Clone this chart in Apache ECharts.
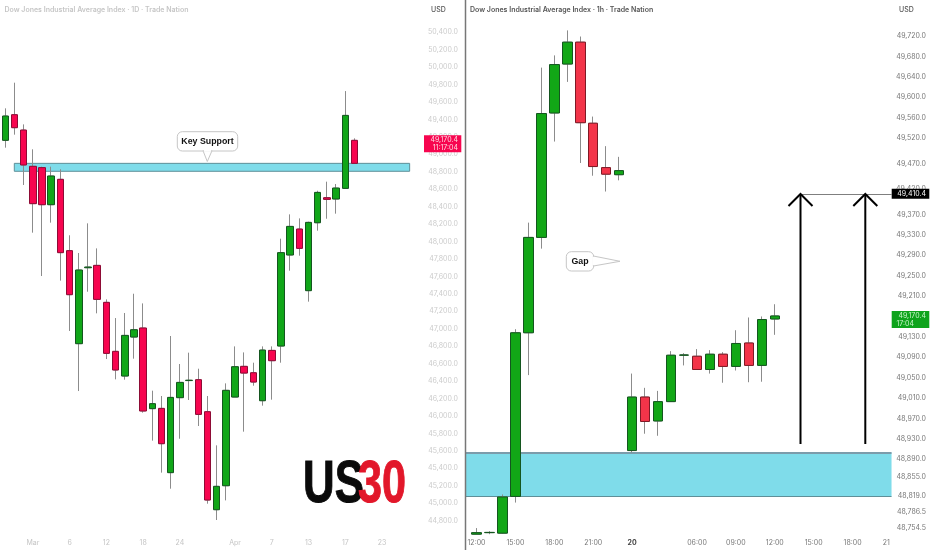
<!DOCTYPE html>
<html>
<head>
<meta charset="utf-8">
<style>html,body{margin:0;padding:0;background:#fff}#c{width:932px;height:550px}</style>
<script src="https://cdn.jsdelivr.net/npm/echarts@6/dist/echarts.min.js"></script>
</head>
<body>
<div id="c"></div>
<script>
// ---------- Daily panel ----------
const dailyOpen  = [49161,49455,49279,48863,48848,48423,48714,47896,46829,47700,47727,47303,46741,46458,46905,47009,46084,46087,45350,46210,46406,46416,46049,44925,45200,46217,46569,46496,46175,46752,46802,47846,48144,47437,48216,48503,48488,48610,49161];
const dailyClose = [49440,49306,48878,48435,48423,48752,47873,47391,47674,47708,47337,46718,46527,46924,46989,46057,46141,45682,46213,46385,46410,46018,45036,45193,46294,46565,46492,46389,46756,46634,47873,48174,47922,48220,48564,48484,48614,49447,48897];
const dailyLow   = [49077,49226,48649,48102,47605,48217,47552,46975,46286,47425,47177,46653,46420,46416,46657,46038,45717,45350,45166,45739,46183,45885,44994,44807,45032,46217,45820,46347,46118,46187,46611,47666,47838,47311,48125,48262,48320,48610,48897];
const dailyHigh  = [49528,49822,49344,49058,48859,48859,48829,48072,47869,48209,47922,47337,47123,47181,47402,47291,46290,46229,46917,46596,46726,46542,46229,45663,46374,46798,46729,46611,46798,46798,48033,48312,48266,48228,48583,48687,48660,49726,49184];
const dailyTickPos   = [3,7,11,15,19,25,29,33,37,41];
const dailyTickNames = ['Mar','6','12','18','24','Apr','7','13','17','23'];
const dailyPrices = [50400,50200,50000,49800,49600,49400,49200,49000,48800,48600,48400,48200,48000,47800,47600,47400,47200,47000,46800,46600,46400,46200,46000,45800,45600,45400,45200,45000,44800];
const keySupport = [48897,48806];

// ---------- Hourly panel ----------
const hourlyOpen  = [48743,48746,48745,48817,49138,49325,49569,49665,49708,49549,49462,49448,48907,49012,48965,49003,49094,49092,49066,49096,49072,49118,49074,49165];
const hourlyClose = [48746,48746.5,48816,49138,49325,49568,49664,49708,49550,49464,49449,49456,49012,48964,49003,49094,49094.5,49066,49096,49072,49117,49074,49164,49171];
const hourlyLow   = [48743,48743,48744,48805,49055,49303,49513,49630,49471,49446,49415,49437,48903,48940,48936,49003,49074,49066,49058,49040,49064,49041,49042,49134];
const hourlyHigh  = [48755,48749,48821,49145,49354,49658,49682,49731,49719,49562,49504,49483,49058,49030,49024,49102,49098,49106,49104,49100,49143,49168,49170,49194];
const hourlyTickPos   = [0,3,6,9,12,17,20,23,26,29,31.6];
const hourlyTickNames = ['12:00','15:00','18:00','21:00','20','06:00','09:00','12:00','15:00','18:00','21'];
const hourlyPrices = [49720,49680,49640,49600,49560,49520,49470,49420,49370,49330,49290,49250,49210,49130,49090,49050,49010,48970,48930,48890,48855,48819,48786.5,48754.5];
const gapZone = [48903,48817];
const targetPrice = 49410.4;
const lastPrice = 49170.4;

const FONT = 'Inter, "Noto Sans", sans-serif';
const CALL = '"Liberation Sans", Arial, sans-serif';
const STAMP = '"Liberation Sans Narrow","Liberation Sans",sans-serif';
const fmt = v => v.toLocaleString('en-US',{minimumFractionDigits:1,maximumFractionDigits:1});
const rows = (x,a,b,c,d) => a.map((_,i)=>[i,a[i],b[i],c[i],d[i]]);
const bodies = (a,b) => a.map((_,i)=>[i,a[i],b[i],Math.min(a[i],b[i]),Math.max(a[i],b[i])]);

function xAxisFor(idx,min,max,pos,names,color){
  return {type:'value',gridIndex:idx,min,max,splitLine:{show:false},axisLine:{show:false},
    axisTick:{show:false,customValues:pos},
    axisLabel:{customValues:pos,color,fontSize:7,fontFamily:FONT,margin:4.5,hideOverlap:false,showMinLabel:true,showMaxLabel:true,
      formatter:v=>{const n=names[pos.indexOf(v)];return n==='20'?'{b|20}':n;},
      rich:{b:{fontWeight:'bold',color:'#444',fontSize:7,fontFamily:FONT}}}};
}
function yAxisFor(idx,min,max,prices,color,margin){
  return {type:'value',gridIndex:idx,position:'right',min,max,scale:true,splitLine:{show:false},axisLine:{show:false},
    axisTick:{show:false,customValues:prices},
    axisLabel:{customValues:prices,inside:true,margin,padding:[2,0,0,0],color,fontSize:7,fontFamily:FONT,formatter:fmt,showMinLabel:true,showMaxLabel:true}};
}
const wickStyle={color:'#8c8c8c',color0:'#8c8c8c',borderColor:'#8c8c8c',borderColor0:'#8c8c8c',borderColorDoji:'#8c8c8c',borderWidth:1};

const option={
  animation:false,
  backgroundColor:'#ffffff',
  title:[
    {text:'Dow Jones Industrial Average Index · 1D · Trade Nation',left:4.5,top:6,padding:0,textStyle:{color:'#c6c6c6',fontSize:7,fontWeight:600,fontFamily:FONT}},
    {text:'Dow Jones Industrial Average Index · 1h · Trade Nation',left:470,top:6,padding:0,textStyle:{color:'#555555',fontSize:7,fontWeight:600,fontFamily:FONT}},
    {text:'USD',left:431,top:6,padding:0,textStyle:{color:'#555555',fontSize:7,fontWeight:500,fontFamily:FONT}},
    {text:'USD',left:899,top:6,padding:0,textStyle:{color:'#555555',fontSize:7,fontWeight:500,fontFamily:FONT}}
  ],
  grid:[
    {left:0,top:20,width:460,height:515},
    {left:466,top:20,width:466,height:515}
  ],
  xAxis:[
    xAxisFor(0,-0.577,49.48,dailyTickPos,dailyTickNames,'#c4c4c4'),
    xAxisFor(1,-0.81,35.12,hourlyTickPos,hourlyTickNames,'#777777')
  ],
  yAxis:[
    yAxisFor(0,44635,50541,dailyPrices,'#cbcbcb',2),
    yAxisFor(1,48741.4,49751.4,hourlyPrices,'#777777',6)
  ],
  series:[
    {type:'candlestick',name:'Daily wicks',xAxisIndex:0,yAxisIndex:0,barWidth:5,itemStyle:wickStyle,silent:true,z:2,
      data:rows(0,dailyOpen,dailyClose,dailyLow,dailyHigh),
      markArea:{silent:true,z:1,itemStyle:{color:'#7fdcea',borderColor:'#5f8f98',borderWidth:1},
        data:[[{coord:[0.98,keySupport[0]]},{coord:[44,keySupport[1]]}]]}},
    {type:'candlestick',name:'Daily bodies',xAxisIndex:0,yAxisIndex:0,barWidth:7,z:3,
      itemStyle:{color:'#10a618',color0:'#f7054f',borderColor:'#14561f',borderColor0:'#8e0b35',borderColorDoji:'#333',borderWidth:1},
      data:bodies(dailyOpen,dailyClose)},
    {type:'candlestick',name:'Hourly wicks',xAxisIndex:1,yAxisIndex:1,barWidth:8,itemStyle:wickStyle,silent:true,z:2,
      data:rows(1,hourlyOpen,hourlyClose,hourlyLow,hourlyHigh),
      markArea:{silent:true,z:1,itemStyle:{color:'#7fdcea',borderColor:'#5f8f98',borderWidth:0},
        data:[[{coord:[-0.81,gapZone[0]]},{coord:[32.0,gapZone[1]]}]]},
      markLine:{silent:true,symbol:'none',z:1,label:{show:false},lineStyle:{color:'#7f7f7f',width:1,type:'solid'},
        data:[
          [{coord:[24.94,targetPrice]},{coord:[32.0,targetPrice]}],
          [{coord:[-0.81,gapZone[0]],lineStyle:{color:'#7c9cab',width:2}},{coord:[32.0,gapZone[0]]}],
          [{coord:[-0.81,gapZone[1]],lineStyle:{color:'#5f8f98',width:1}},{coord:[32.0,gapZone[1]]}]
        ]}},
    {type:'candlestick',name:'Hourly bodies',xAxisIndex:1,yAxisIndex:1,barWidth:10,z:3,
      itemStyle:{color:'#12a716',color0:'#f33449',borderColor:'#14561f',borderColor0:'#7f1a26',borderColorDoji:'#333',borderWidth:1},
      data:bodies(hourlyOpen,hourlyClose)}
  ],
  graphic:{elements:[
    // pane divider
    {type:'line',z:50,shape:{x1:465.5,y1:0,x2:465.5,y2:550},style:{stroke:'#777',lineWidth:1.5}},
    // Key Support callout
    {type:'rect',z:60,shape:{x:177.3,y:131.7,width:60.4,height:19.3,r:5},style:{fill:'#fff',stroke:'#c6c6c6',lineWidth:1}},
    {type:'polygon',z:61,shape:{points:[[203,150.7],[207.3,161.5],[212,150.7]]},style:{fill:'#fff',stroke:'#c6c6c6',lineWidth:1}},
    {type:'line',z:62,shape:{x1:203.8,y1:150.6,x2:211.2,y2:150.6},style:{stroke:'#fff',lineWidth:1.6}},
    {type:'text',z:63,style:{text:'Key Support',x:207.5,y:141.3,align:'center',verticalAlign:'middle',font:'bold 8.8px '+CALL,fill:'#111'}},
    // Gap callout
    {type:'rect',z:60,shape:{x:566.3,y:251.7,width:27.4,height:19.3,r:5},style:{fill:'#fff',stroke:'#c6c6c6',lineWidth:1}},
    {type:'polygon',z:61,shape:{points:[[593.4,256],[620,261.3],[593.4,266]]},style:{fill:'#fff',stroke:'#c6c6c6',lineWidth:1}},
    {type:'line',z:62,shape:{x1:593.3,y1:256.8,x2:593.3,y2:265.2},style:{stroke:'#fff',lineWidth:1.6}},
    {type:'text',z:63,style:{text:'Gap',x:580,y:261.3,align:'center',verticalAlign:'middle',font:'bold 8.8px '+CALL,fill:'#111'}},
    // Arrows
    {type:'polyline',z:55,shape:{points:[[800.5,444],[800.5,194]]},style:{stroke:'#000',lineWidth:2,fill:null}},
    {type:'polyline',z:55,shape:{points:[[788.5,206],[800.5,194],[812.5,206]]},style:{stroke:'#000',lineWidth:2,fill:null}},
    {type:'polyline',z:55,shape:{points:[[865.3,444],[865.3,194]]},style:{stroke:'#000',lineWidth:2,fill:null}},
    {type:'polyline',z:55,shape:{points:[[853.3,206],[865.3,194],[877.3,206]]},style:{stroke:'#000',lineWidth:2,fill:null}},
    // Price tags
    {type:'rect',z:70,shape:{x:424,y:135.3,width:37.3,height:17},style:{fill:'#f7054f'}},
    {type:'text',z:71,style:{text:fmt(lastPrice),x:458,y:140,align:'right',verticalAlign:'middle',font:'7px '+FONT,fill:'#ffd9e3'}},
    {type:'text',z:71,style:{text:'11:17:04',x:458,y:147.8,align:'right',verticalAlign:'middle',font:'7px '+FONT,fill:'#ffd9e3'}},
    {type:'rect',z:70,shape:{x:891.7,y:188.7,width:37.6,height:10},style:{fill:'#000'}},
    {type:'text',z:71,style:{text:fmt(targetPrice),x:926,y:194,align:'right',verticalAlign:'middle',font:'7px '+FONT,fill:'#fff'}},
    {type:'rect',z:70,shape:{x:891.7,y:311,width:37.6,height:17},style:{fill:'#0ea31c'}},
    {type:'text',z:71,style:{text:fmt(lastPrice),x:926,y:315.8,align:'right',verticalAlign:'middle',font:'7px '+FONT,fill:'#c9f5c9'}},
    {type:'text',z:71,style:{text:'17:04',x:896.5,y:323.5,align:'left',verticalAlign:'middle',font:'7px '+FONT,fill:'#c9f5c9'}},
    // US30 stamp
    {type:'text',z:40,x:303,y:515,scaleX:0.73,style:{text:'US',x:0,y:0,align:'left',verticalAlign:'bottom',font:'bold 60px '+STAMP,fill:'#0a0a0a',stroke:'#0a0a0a',lineWidth:1,shadowBlur:6,shadowColor:'rgba(0,0,0,0.25)',shadowOffsetY:3}},
    {type:'text',z:40,x:358,y:515,scaleX:0.72,style:{text:'30',x:0,y:0,align:'left',verticalAlign:'bottom',font:'bold 60px '+STAMP,fill:'#e2172a',stroke:'#e2172a',lineWidth:1,shadowBlur:6,shadowColor:'rgba(0,0,0,0.25)',shadowOffsetY:3}}
  ]}
};
const chart=echarts.init(document.getElementById('c'),null,{renderer:'canvas'});
chart.setOption(option);
</script>
</body>
</html>
